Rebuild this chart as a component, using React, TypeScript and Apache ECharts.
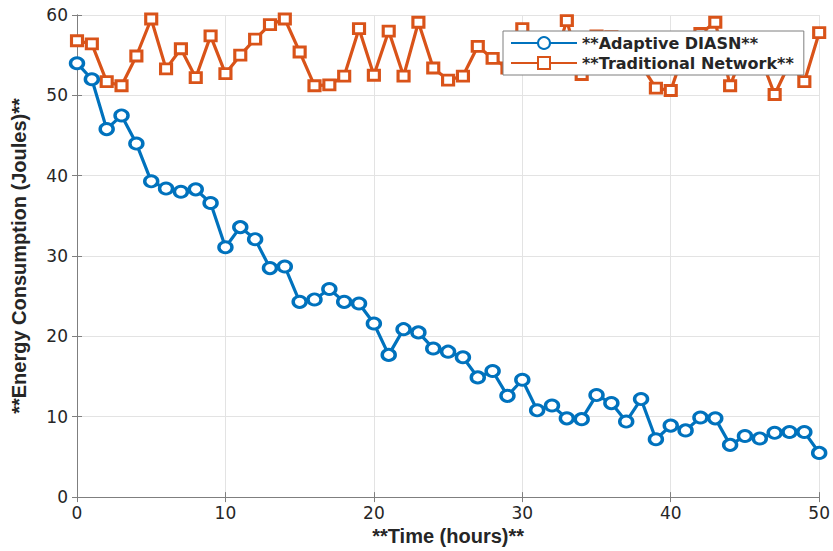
import React, { useEffect, useRef } from "react";
import * as echarts from "echarts";

const hours = Array.from({ length: 51 }, (_, i) => i);
const adaptive = [
  54.0, 52.0, 45.8, 47.5, 44.0, 39.3, 38.4, 38.0, 38.3, 36.6,
  31.1, 33.6, 32.1, 28.5, 28.7, 24.3, 24.6, 25.9, 24.3, 24.1,
  21.6, 17.7, 20.9, 20.5, 18.5, 18.1, 17.4, 14.9, 15.7, 12.6,
  14.6, 10.8, 11.4, 9.8, 9.7, 12.7, 11.7, 9.4, 12.2, 7.2,
  8.9, 8.3, 9.9, 9.8, 6.5, 7.6, 7.3, 8.0, 8.1, 8.1, 5.5,
];
const traditional = [
  56.8, 56.4, 51.7, 51.2, 54.9, 59.5, 53.3, 55.8, 52.2, 57.4,
  52.7, 55.0, 57.0, 58.8, 59.5, 55.4, 51.2, 51.3, 52.4, 58.3,
  52.5, 58.0, 52.4, 59.1, 53.4, 51.9, 52.4, 56.1, 54.6, 53.4,
  58.3, 55.5, 53.5, 59.3, 52.6, 57.4, 57.3, 55.0, 53.8, 50.9,
  50.6, 56.0, 57.7, 59.1, 51.2, 56.0, 55.0, 50.1, 54.0, 51.7, 57.8,
];
const seriesNames = ["**Adaptive DIASN**", "**Traditional Network**"];
const xTitle = "**Time (hours)**";
const yTitle = "**Energy Consumption (Joules)**";

const BLUE = "#0072BD";
const ORANGE = "#D95319";
const FONT = "'Liberation Sans', Arial, Helvetica, sans-serif";
const WIDE = "'DejaVu Sans', 'Liberation Sans', sans-serif";

export default function App() {
  const ref = useRef<HTMLDivElement>(null);
  useEffect(() => {
    if (!ref.current) return;
    const chart = echarts.init(ref.current, undefined, { renderer: "svg" });
    const axisLine = { show: true, lineStyle: { color: "#7f7f7f", width: 1 } };
    const tick = { show: true, inside: true, length: 5, lineStyle: { color: "#7f7f7f" } };
    chart.setOption({
      animation: false,
      backgroundColor: "#ffffff",
      textStyle: { fontFamily: FONT },
      grid: { left: 77, right: 13, top: 15, bottom: 53, containLabel: false },
      legend: {
        orient: "vertical",
        left: 503,
        top: 31,
        z: 20,
        padding: [4, 10, 4, 7],
        itemWidth: 66,
        itemHeight: 15,
        itemGap: 4,
        backgroundColor: "#ffffff",
        borderColor: "#7f7f7f",
        borderWidth: 1,
        borderRadius: 0,
        textStyle: { fontFamily: WIDE, fontWeight: "bold", fontSize: 16, lineHeight: 15, color: "#262626" },
        data: seriesNames.map((n) => ({ name: n })),
      },
      xAxis: [
        {
          type: "value",
          min: 0,
          max: 50,
          interval: 10,
          name: xTitle,
          nameLocation: "middle",
          nameGap: 28,
          nameTextStyle: { fontFamily: FONT, fontWeight: "bold", fontSize: 20, color: "#262626" },
          axisLine,
          axisTick: tick,
          axisLabel: { fontFamily: WIDE, fontSize: 17, color: "#262626", margin: 7 },
          splitLine: { show: true, lineStyle: { color: "#e3e3e3", width: 1 } },
        },
        {
          type: "value",
          position: "top",
          min: 0,
          max: 50,
          interval: 10,
          axisLine,
          axisTick: tick,
          axisLabel: { show: false },
          splitLine: { show: false },
        },
      ],
      yAxis: [
        {
          type: "value",
          min: 0,
          max: 60,
          interval: 10,
          name: yTitle,
          nameLocation: "middle",
          nameGap: 48,
          nameTextStyle: { fontFamily: FONT, fontWeight: "bold", fontSize: 20, color: "#262626" },
          axisLine,
          axisTick: tick,
          axisLabel: { fontFamily: WIDE, fontSize: 17, color: "#262626", margin: 9 },
          splitLine: { show: true, lineStyle: { color: "#e3e3e3", width: 1 } },
        },
        {
          type: "value",
          position: "right",
          min: 0,
          max: 60,
          interval: 10,
          axisLine,
          axisTick: tick,
          axisLabel: { show: false },
          splitLine: { show: false },
        },
      ],
      series: [
        {
          name: seriesNames[0],
          type: "line",
          data: hours.map((h, i) => [h, adaptive[i]]),
          symbol: "circle",
          symbolSize: [13, 11],
          showAllSymbol: true,
          lineStyle: { color: BLUE, width: 3.2 },
          itemStyle: { color: "#ffffff", borderColor: BLUE, borderWidth: 3.2 },
          z: 3,
        },
        {
          name: seriesNames[1],
          type: "line",
          data: hours.map((h, i) => [h, traditional[i]]),
          symbol: "rect",
          symbolSize: [11, 10],
          showAllSymbol: true,
          lineStyle: { color: ORANGE, width: 3.2 },
          itemStyle: { color: "#ffffff", borderColor: ORANGE, borderWidth: 3 },
          z: 2,
        },
      ],
    });
    return () => chart.dispose();
  }, []);
  return <div ref={ref} style={{ width: 833, height: 551, position: "absolute", left: 0, top: 0 }} />;
}
